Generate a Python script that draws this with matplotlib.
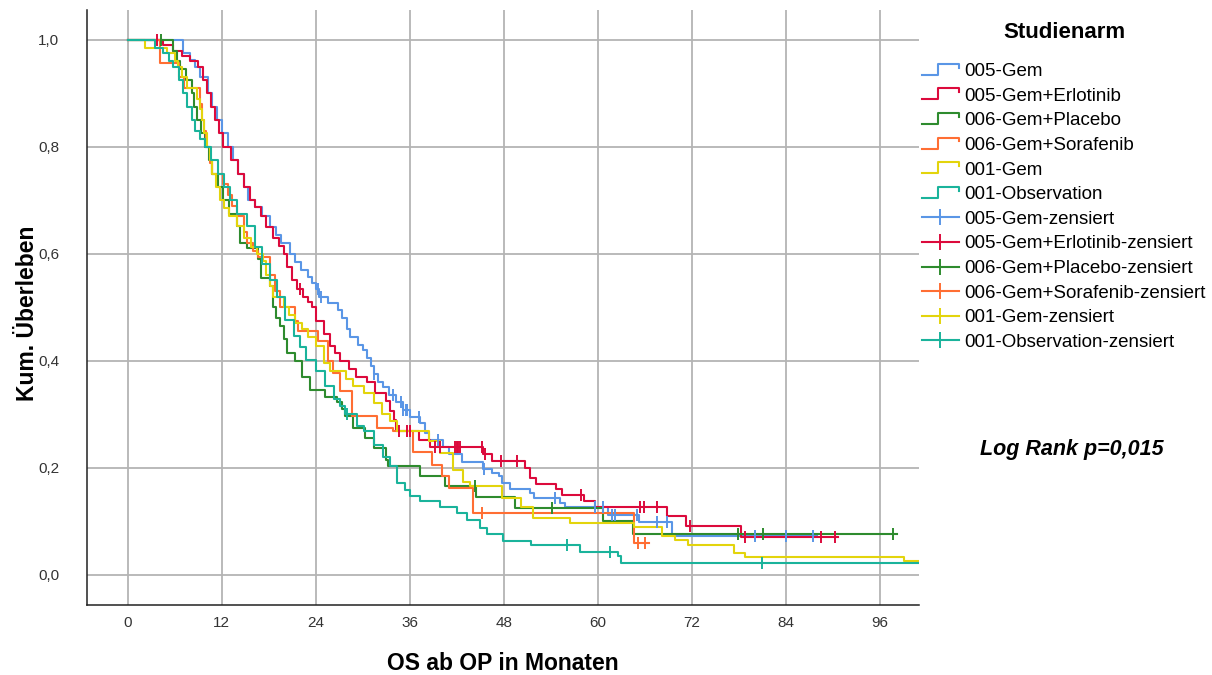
import numpy as np
import matplotlib
matplotlib.use("Agg")
import matplotlib.pyplot as plt
from matplotlib.lines import Line2D
from matplotlib.legend_handler import HandlerBase

plt.rcParams['font.family'] = ['Liberation Sans', 'DejaVu Sans']

# Kaplan-Meier step data per study arm: event times (months), survival after each step
gem005_t = [0, 7.1, 8.0, 8.6, 9.3, 10.3, 10.8, 11.4, 12.1, 12.8, 13.5, 14.1, 14.8, 15.4, 16.2,
            17.1, 18.2, 18.9, 19.6, 20.7, 21.4, 22.1, 23.0, 23.5, 24.0, 24.4, 25.6, 26.9, 27.4, 28.0,
            28.4, 29.4, 30.0, 30.6, 31.0, 31.4, 32.0, 32.6, 33.4, 34.2, 35.2, 36.0, 37.3, 38.0, 38.4,
            40.2, 41.0, 42.7, 45.3, 46.5, 47.4, 47.8, 48.8, 51.4, 51.8, 55.2, 55.8, 61.3, 65.3, 69.4]
gem005_s = [1.0, 0.976, 0.962, 0.95, 0.93, 0.90, 0.875, 0.85, 0.825, 0.80, 0.775, 0.75, 0.725, 0.70, 0.688,
            0.67, 0.65, 0.635, 0.62, 0.60, 0.585, 0.57, 0.557, 0.545, 0.535, 0.52, 0.508, 0.495, 0.48, 0.46,
            0.445, 0.43, 0.42, 0.405, 0.39, 0.375, 0.36, 0.35, 0.335, 0.322, 0.308, 0.295, 0.283, 0.265, 0.252,
            0.238, 0.225, 0.21, 0.197, 0.19, 0.184, 0.171, 0.160, 0.152, 0.143, 0.134, 0.126, 0.112, 0.098, 0.073]
gem005_end = 88.0
gem005_cens = [24.3, 24.7, 31.4, 33.8, 34.9, 35.2, 35.5, 35.7, 37.2, 39.6, 45.5, 54.5,
               59.6, 60.7, 61.8, 62.2, 65.0, 67.5, 68.8, 80.0, 84.0, 87.5]

erlo_t = [0, 4.5, 5.8, 7.0, 8.0, 9.0, 9.6, 10.1, 10.6, 11.2, 11.7, 12.2, 13.2, 14.1, 14.9,
          15.6, 16.3, 17.0, 17.7, 18.6, 19.3, 19.9, 20.4, 21.0, 21.6, 22.4, 23.0, 23.5, 24.1, 25.0,
          25.8, 26.5, 27.1, 28.2, 29.2, 30.5, 31.6, 33.0, 33.5, 34.0, 34.2, 37.2, 38.6, 45.3, 46.5,
          50.7, 51.4, 52.1, 54.7, 55.4, 58.2, 59.6, 68.8, 71.3, 78.3]
erlo_s = [1.0, 0.99, 0.98, 0.97, 0.96, 0.95, 0.925, 0.90, 0.875, 0.85, 0.825, 0.80, 0.775, 0.75, 0.725,
          0.70, 0.688, 0.67, 0.65, 0.63, 0.615, 0.60, 0.575, 0.55, 0.535, 0.52, 0.51, 0.50, 0.475, 0.45,
          0.427, 0.415, 0.40, 0.385, 0.37, 0.36, 0.34, 0.324, 0.305, 0.289, 0.268, 0.252, 0.238, 0.225, 0.213,
          0.199, 0.18, 0.17, 0.16, 0.149, 0.138, 0.127, 0.109, 0.09, 0.07]
erlo_end = 90.6
erlo_cens = [3.8, 22.0, 34.6, 35.6, 36.0, 39.2, 39.9, 41.8, 42.0, 42.2, 42.4, 45.2, 45.6,
             47.7, 49.7, 57.9, 65.4, 65.9, 67.5, 71.7, 78.8, 88.5, 90.2]

plac_t = [0, 5.8, 6.3, 6.7, 7.4, 8.2, 8.5, 8.8, 9.4, 9.9, 10.4, 10.8, 11.5, 12.2, 12.9,
          13.9, 14.4, 15.2, 16.7, 17.0, 18.2, 18.6, 19.0, 19.5, 20.0, 20.3, 21.4, 22.2, 23.3, 25.2,
          26.7, 27.3, 27.7, 28.8, 30.3, 31.4, 33.0, 33.2, 37.3, 40.5, 44.5, 49.4, 60.7, 64.5]
plac_s = [1.0, 0.98, 0.96, 0.945, 0.925, 0.90, 0.875, 0.85, 0.825, 0.80, 0.775, 0.75, 0.725, 0.70, 0.675,
          0.652, 0.62, 0.61, 0.59, 0.555, 0.54, 0.50, 0.48, 0.465, 0.44, 0.415, 0.40, 0.37, 0.346, 0.333,
          0.323, 0.31, 0.296, 0.274, 0.255, 0.237, 0.215, 0.203, 0.184, 0.165, 0.145, 0.125, 0.10, 0.076]
plac_end = 98.1
plac_cens = [4.3, 44.3, 54.1, 77.9, 81.0, 97.7]

sora_t = [0, 4.1, 6.5, 7.2, 9.3, 9.5, 9.7, 10.0, 10.5, 10.8, 12.2, 12.8, 13.3, 14.0, 14.8,
          15.3, 16.0, 16.7, 18.2, 18.8, 19.5, 21.4, 21.8, 24.3, 25.6, 26.2, 27.1, 28.6, 31.8, 33.9,
          36.4, 38.8, 40.1, 41.0, 44.1, 64.6]
sora_s = [1.0, 0.957, 0.93, 0.91, 0.88, 0.85, 0.83, 0.80, 0.77, 0.75, 0.73, 0.71, 0.69, 0.67, 0.64,
          0.62, 0.605, 0.594, 0.56, 0.53, 0.50, 0.475, 0.455, 0.436, 0.40, 0.377, 0.343, 0.296, 0.274, 0.268,
          0.23, 0.205, 0.184, 0.162, 0.115, 0.059]
sora_end = 66.5
sora_cens = [45.2, 65.1, 66.0]

gem001_t = [0, 2.2, 5.0, 6.0, 6.4, 7.0, 7.6, 8.8, 9.2, 9.5, 9.8, 10.1, 10.5, 10.8, 11.3,
            11.8, 12.3, 13.0, 13.9, 14.8, 15.8, 16.5, 17.3, 17.7, 18.2, 18.6, 19.9, 20.6, 21.4, 22.2,
            23.0, 24.1, 25.0, 25.8, 27.9, 28.8, 30.1, 31.4, 32.4, 33.5, 34.4, 38.4, 39.9, 41.5, 42.8,
            43.7, 47.8, 50.2, 51.7, 56.4, 64.6, 68.2, 69.8, 71.5, 77.4, 78.8, 99.0]
gem001_s = [1.0, 0.985, 0.975, 0.96, 0.95, 0.93, 0.91, 0.89, 0.87, 0.85, 0.825, 0.80, 0.775, 0.75, 0.725,
            0.70, 0.685, 0.67, 0.652, 0.63, 0.612, 0.60, 0.587, 0.56, 0.54, 0.52, 0.50, 0.485, 0.47, 0.46,
            0.445, 0.427, 0.396, 0.38, 0.365, 0.353, 0.34, 0.321, 0.30, 0.287, 0.268, 0.249, 0.227, 0.196, 0.174,
            0.165, 0.143, 0.126, 0.105, 0.096, 0.088, 0.073, 0.064, 0.056, 0.04, 0.033, 0.025]
gem001_end = 101.0
gem001_cens = []

obs_t = [0, 3.5, 4.5, 5.3, 5.8, 6.5, 7.1, 7.6, 8.2, 8.6, 9.2, 9.9, 10.7, 11.5, 12.3,
         13.1, 14.0, 15.2, 16.3, 17.2, 18.2, 19.1, 20.1, 21.2, 22.0, 22.8, 24.0, 25.2, 26.3, 27.1,
         27.7, 29.3, 30.2, 31.4, 32.6, 33.5, 34.4, 35.4, 36.0, 37.3, 39.9, 42.0, 43.3, 44.9, 45.8,
         47.9, 51.5, 57.7, 62.6, 63.0]
obs_s = [1.0, 0.985, 0.975, 0.96, 0.95, 0.925, 0.90, 0.875, 0.85, 0.83, 0.815, 0.80, 0.775, 0.75, 0.725,
         0.70, 0.675, 0.652, 0.612, 0.58, 0.55, 0.52, 0.477, 0.446, 0.425, 0.402, 0.38, 0.353, 0.328, 0.315,
         0.30, 0.277, 0.268, 0.242, 0.22, 0.203, 0.171, 0.159, 0.146, 0.137, 0.127, 0.115, 0.102, 0.087, 0.075,
         0.063, 0.056, 0.042, 0.035, 0.021]
obs_end = 101.0
obs_cens = [28.0, 56.0, 61.5, 80.9]

arm_names = ['005-Gem', '005-Gem+Erlotinib', '006-Gem+Placebo',
             '006-Gem+Sorafenib', '001-Gem', '001-Observation']
arm_colors = ['#5a96e6', '#dc0a3c', '#2e8b2e', '#ff6e33', '#e3d40c', '#1ab39b']

xticks = [0, 12, 24, 36, 48, 60, 72, 84, 96]
yticks = [0.0, 0.2, 0.4, 0.6, 0.8, 1.0]
ytick_labels = ['0,0', '0,2', '0,4', '0,6', '0,8', '1,0']

arms = [
    (gem005_t, gem005_s, gem005_end, gem005_cens),
    (erlo_t, erlo_s, erlo_end, erlo_cens),
    (plac_t, plac_s, plac_end, plac_cens),
    (sora_t, sora_s, sora_end, sora_cens),
    (gem001_t, gem001_s, gem001_end, gem001_cens),
    (obs_t, obs_s, obs_end, obs_cens),
]


class StepIcon(HandlerBase):
    # small step-shaped legend key like the one SPSS draws
    def create_artists(self, legend, orig_handle, xdescent, ydescent,
                       width, height, fontsize, trans):
        x0, y0 = -xdescent, -ydescent
        xs = [x0, x0 + 0.45 * width, x0 + 0.45 * width, x0 + width, x0 + width]
        ys = [y0 + 0.1 * height, y0 + 0.1 * height, y0 + 0.95 * height,
              y0 + 0.95 * height, y0 + 0.65 * height]
        line = Line2D(xs, ys, color=orig_handle.get_color(),
                      lw=orig_handle.get_linewidth(), transform=trans)
        return [line]


fig = plt.figure(figsize=(12.12, 6.75), dpi=100)
ax = fig.add_axes([0.0718, 0.1037, 0.6865, 0.8815])

LW = 1.5
curve_handles = []
cens_handles = []
for (t, s, end, cens), name, col in zip(arms, arm_names, arm_colors):
    t = np.array(t)
    s = np.array(s)
    ln, = ax.step(np.append(t, end), np.append(s, s[-1]), where='post',
                  color=col, lw=LW, zorder=3)
    curve_handles.append(ln)
    if len(cens):
        cens = np.array(cens)
        cy = s[np.searchsorted(t, cens, side='right') - 1]
        ax.plot(cens, cy, ls='none', marker='|', markersize=9, mew=1.4,
                color=col, zorder=4)
    cens_handles.append(Line2D([], [], color=col, lw=LW, marker='|',
                               markersize=12, mew=1.4))

ax.set_xlim(-5.17, 100.97)
ax.set_ylim(-0.057, 1.056)
ax.set_xticks(xticks)
ax.set_yticks(yticks)
ax.set_yticklabels(ytick_labels)
ax.tick_params(length=0, labelsize=11, labelcolor='#333333')
ax.tick_params(axis='x', pad=8)
ax.tick_params(axis='y', pad=20)
ax.grid(True, color='#b4b4b4', lw=1.3)
ax.set_axisbelow(True)
for side in ['top', 'right']:
    ax.spines[side].set_visible(False)
for side in ['left', 'bottom']:
    ax.spines[side].set_color('#222222')
    ax.spines[side].set_linewidth(1.1)

ax.set_xlabel('OS ab OP in Monaten', fontsize=16.5, fontweight='bold', va='center')
ax.xaxis.set_label_coords(0.5, -0.0975)
ax.set_ylabel('Kum. Überleben', fontsize=16.5, fontweight='bold', va='center')
ax.yaxis.set_label_coords(-0.071, 0.49)

# legend entries; the title sits a little higher above them
labels = arm_names + [n + '-zensiert' for n in arm_names]
handler_map = {h: StepIcon() for h in curve_handles}
leg = fig.legend(curve_handles + cens_handles, labels, loc='upper left',
                 bbox_to_anchor=(922 / 1212, 1 - 63 / 675), frameon=False,
                 fontsize=13.5, handlelength=1.95, handletextpad=0.3,
                 labelspacing=0.4, borderpad=0, borderaxespad=0,
                 handler_map=handler_map)
fig.text(1064 / 1212, 1 - 33 / 675, 'Studienarm', fontsize=16,
         fontweight='bold', ha='center', va='center')

fig.text(980 / 1212, 1 - 449 / 675, 'Log Rank p=0,015', fontsize=15.5,
         fontweight='bold', fontstyle='italic', va='center', ha='left')

fig.savefig('out.png', dpi=100)
